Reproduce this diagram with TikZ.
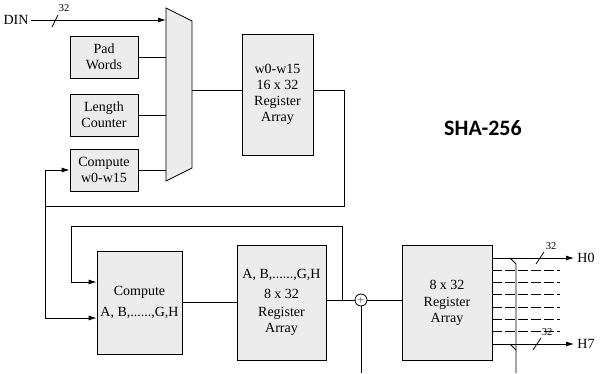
\documentclass[tikz,border=0pt]{standalone}
\usepackage{fontspec}
\setmainfont{Liberation Serif}
\newfontfamily\headfont{Carlito}
\usetikzlibrary{arrows.meta}
\tikzset{blk/.style={draw,fill=gray!15,align=center,inner sep=0pt}}
\tikzset{bus/.style={-{Latex[length=8pt,width=5pt]}}}
\tikzset{wlab/.style={font=\fontsize{10.5}{10.5}\selectfont,inner sep=1pt}}
\begin{document}
\begin{tikzpicture}[x=1pt,y=-1pt,line width=.8pt,font=\fontsize{14}{16}\selectfont]
\useasboundingbox (0,0) rectangle (600,373);
% message schedule part
\node[inner sep=2pt] (din) at (16,20) {DIN};
\node[blk,minimum width=68pt,minimum height=42pt] (pad) at (104,57) {Pad\\Words};
\node[blk,minimum width=68pt,minimum height=42pt] (len) at (104,115) {Length\\Counter};
\node[blk,minimum width=68pt,minimum height=42pt] (cw) at (104,170) {Compute\\w0-w15};
\draw[fill=gray!15] (166,8) coordinate (mtl) -- (192,21) -- (192,168) -- (166,181) -- cycle;
\coordinate (mout) at (192,90);
\node[blk,minimum width=71pt,minimum height=121pt] (wreg) at (277.5,94.5) {w0-w15\\16 x 32\\Register\\Array};
\draw[bus] (din.east) -- (din.east -| mtl);
\draw (52,27)--(58,15); \node[wlab] (d32) at (64,8) {32};
\foreach \b in {pad,len,cw} \draw (\b.east) -- (\b.east -| mtl);
\draw (mout) -- (mout -| wreg.west);
\coordinate (in1) at (0,282); \coordinate (in2) at (0,318); \coordinate (top) at (71,226);
\draw (wreg.east |- mout) -- ++(31,0) |- (45,206) coordinate (split);
\draw[bus] (split) |- (cw.west);
% compression part
\node[blk,minimum width=85pt,minimum height=103pt] (cab) at (139.5,302.5) {Compute\\[5pt]A, B,......,G,H};
\node[blk,minimum width=89pt,minimum height=115pt] (rab) at (281.5,302.5) {A, B,......,G,H\\[4pt]8 x 32\\[2pt]Register\\Array};
\node[draw,circle,inner sep=0pt,minimum size=12pt,font=\small] (add) at (361,300) {$+$};
\node[blk,minimum width=90pt,minimum height=115pt] (hreg) at (447,302.5) {8 x 32\\[1pt]Register\\Array};
\draw[bus] (split) |- (in2 -| cab.west);
\draw (cab.east) -- (rab.west);
\draw (rab.east |- add) -- (add.west);
\draw[bus] (rab.east |- add) -- ++(16,0) |- (top) |- (in1 -| cab.west);
\draw (add.south) -- (361,373) coordinate (addin);
\draw (add.east) -- (add -| hreg.west);
% outputs
\foreach \i in {1,...,6} \draw[dash pattern=on 10pt off 3pt] (492,258+\i*12.29) -- (560,258+\i*12.29);
\draw[bus] (492,258) -- (574,258) node[right=2pt,inner sep=1pt] (h0) {H0};
\draw[bus] (492,344) -- (574,344) node[right=2pt,inner sep=1pt] (h7) {H7};
\draw (510,258) -- (516,264) -- (516,373); \draw (510,344) -- (516,350);
\draw (536,264)--(544,252); \node[wlab] (o32) at (551,246) {32};
\draw (533,350)--(541,338); \node[wlab] (s32) at (547,332) {32};
\node (title) at (483,128) {\headfont\bfseries\fontsize{22}{22}\selectfont SHA-256};
\end{tikzpicture}
\end{document}
